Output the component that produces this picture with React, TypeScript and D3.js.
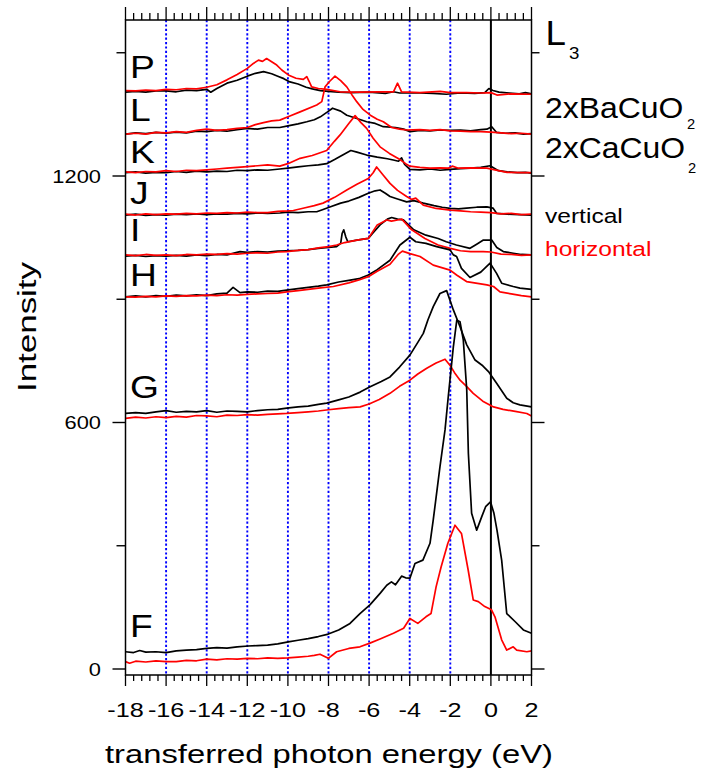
import React, { useEffect, useRef } from 'react';
import * as d3 from 'd3';

type Pt = [number, number];

// spectra: [transferred energy (eV), intensity incl. vertical offset]
const pBlack: Pt[] = [[-18,1404],[-17.5,1406],[-17,1404],[-16.5,1407],[-16,1407],[-15.5,1405],[-15,1409],[-14.5,1408],[-14,1411],[-13.8,1404],[-13.5,1413],[-13,1426],[-12.5,1433],[-12,1443],[-11.6,1450],[-11.2,1454],[-10.8,1449],[-10.5,1443],[-10.2,1437],[-9.9,1429],[-9.5,1424],[-9.1,1416],[-8.8,1412],[-8.4,1408],[-8,1406],[-7.5,1404],[-6.9,1403],[-6,1404],[-5.2,1401],[-4.8,1405],[-4.5,1402],[-3.5,1402],[-2.85,1401],[-2.2,1399],[-1.5,1402],[-0.8,1401],[-0.3,1403],[-0.1,1413],[0.1,1408],[0.4,1404],[0.9,1402],[1.4,1400],[1.7,1403],[2,1400]];
const pRed: Pt[] = [[-18,1408],[-17.5,1407],[-17,1409],[-16.5,1408],[-16,1411],[-15.5,1410],[-15,1413],[-14.5,1412],[-14,1416],[-13.5,1422],[-13,1434],[-12.5,1447],[-12,1462],[-11.7,1474],[-11.45,1482],[-11.25,1479],[-11.05,1486],[-10.8,1478],[-10.55,1470],[-10.3,1458],[-9.98,1446],[-9.6,1438],[-9.24,1435],[-9.07,1442],[-8.95,1430],[-8.83,1417],[-8.5,1413],[-8.09,1411],[-7.43,1405],[-6.5,1404],[-5.5,1405],[-4.8,1405],[-4.6,1426],[-4.4,1405],[-3.5,1403],[-2.5,1406],[-2,1403],[-1.2,1403],[-0.5,1402],[0,1403],[0.3,1397],[1,1400],[2,1399]];
const lBlack: Pt[] = [[-18,1302],[-17.5,1305],[-17,1303],[-16.5,1306],[-16,1304],[-15.5,1307],[-15,1305],[-14.5,1309],[-14,1308],[-13.5,1311],[-13,1309],[-12.5,1313],[-12,1316],[-11.5,1314],[-11,1318],[-10.4,1318],[-10,1322],[-9.5,1327],[-9.07,1332],[-8.7,1337],[-8.4,1344],[-8.05,1356],[-7.8,1365],[-7.4,1358],[-7.1,1348],[-6.6,1340],[-6.12,1332],[-5.7,1328],[-5.3,1320],[-4.7,1318],[-4.3,1314],[-3.98,1308],[-3.5,1311],[-3,1310],[-2.5,1312],[-2.01,1311],[-1.5,1312],[-1,1310],[-0.5,1313],[-0.2,1314],[0.04,1320],[0.28,1306],[0.7,1304],[1.2,1305],[1.6,1302],[2,1303]];
const lRed: Pt[] = [[-18,1302],[-17.5,1304],[-17,1302],[-16.5,1306],[-16,1305],[-15.5,1308],[-15,1306],[-14.5,1311],[-14,1314],[-13.5,1311],[-13,1313],[-12.5,1316],[-12,1318],[-11.6,1325],[-11.2,1330],[-10.8,1334],[-10.4,1336],[-9.9,1346],[-9.4,1356],[-8.58,1373],[-8.33,1381],[-8.17,1417],[-7.95,1430],[-7.68,1443],[-7.4,1432],[-7.1,1417],[-6.85,1398],[-6.61,1381],[-6.3,1362],[-5.94,1348],[-5.6,1338],[-5.3,1332],[-4.89,1318],[-4.5,1314],[-4.15,1312],[-3.5,1313],[-3,1311],[-2.5,1313],[-2,1310],[-1.5,1309],[-1,1308],[-0.5,1308],[0,1307],[0.5,1305],[1,1303],[1.5,1304],[2,1302]];
const kBlack: Pt[] = [[-18,1208],[-17.5,1210],[-17,1207],[-16.5,1209],[-16,1208],[-15.5,1211],[-15,1209],[-14.5,1212],[-14,1210],[-13.5,1212],[-13,1211],[-12.5,1214],[-12,1213],[-11.5,1215],[-11,1214],[-10.4,1217],[-10,1219],[-9.5,1222],[-9,1225],[-8.5,1227],[-8.09,1230],[-7.7,1240],[-7.3,1251],[-6.9,1262],[-6.6,1258],[-6.12,1251],[-5.6,1246],[-5.1,1242],[-4.81,1239],[-4.55,1236],[-4.4,1244],[-4.25,1228],[-3.99,1216],[-3.5,1215],[-3,1217],[-2.5,1214],[-2,1216],[-1.5,1218],[-1,1219],[-0.5,1221],[-0.04,1225],[0.37,1213],[0.8,1210],[1.3,1208],[1.7,1209],[2,1207]];
const kRed: Pt[] = [[-18,1210],[-17.5,1208],[-17,1211],[-16.5,1210],[-16,1213],[-15.5,1211],[-15,1214],[-14.5,1213],[-14,1215],[-13.5,1217],[-13,1219],[-12.5,1221],[-12,1223],[-11.5,1225],[-11,1227],[-10.4,1224],[-10,1230],[-9.4,1243],[-8.8,1250],[-8.09,1262],[-7.7,1285],[-7.43,1300],[-7,1328],[-6.69,1347],[-6.4,1330],[-6.12,1316],[-5.8,1292],[-5.46,1271],[-5,1255],[-4.48,1240],[-4.2,1230],[-3.99,1224],[-3.5,1221],[-3,1219],[-2.5,1220],[-2.1,1219],[-1.9,1224],[-1.6,1219],[-1,1220],[-0.2,1219],[0.2,1215],[0.8,1209],[1.5,1208],[2,1208]];
const jBlack: Pt[] = [[-18,1105],[-17.5,1107],[-17,1104],[-16.5,1106],[-16,1105],[-15.5,1107],[-15,1106],[-14.5,1108],[-14,1106],[-13.5,1108],[-13,1107],[-12.5,1109],[-12,1108],[-11.5,1110],[-11,1109],[-10.4,1110],[-10,1112],[-9.5,1111],[-9,1113],[-8.58,1113],[-8.3,1118],[-7.9,1125],[-7.4,1134],[-7,1139],[-6.5,1148],[-6.04,1158],[-5.7,1164],[-5.46,1166],[-5.2,1158],[-4.97,1150],[-4.6,1144],[-4.15,1137],[-3.8,1140],[-3.33,1134],[-2.8,1128],[-2.4,1124],[-2,1121],[-1.6,1120],[-1.2,1122],[-0.7,1124],[-0.2,1125],[0.1,1122],[0.29,1109],[0.8,1107],[1.4,1106],[2,1105]];
const jRed: Pt[] = [[-18,1107],[-17.5,1105],[-17,1108],[-16.5,1106],[-16,1108],[-15.5,1107],[-15,1109],[-14.5,1108],[-14,1110],[-13.5,1109],[-13,1111],[-12.5,1110],[-12,1112],[-11.5,1111],[-11,1111],[-10.5,1114],[-10,1115],[-9.73,1116],[-9.2,1122],[-8.7,1128],[-8.27,1134],[-7.7,1148],[-7.1,1166],[-6.6,1180],[-6.04,1194],[-5.8,1208],[-5.63,1222],[-5.3,1202],[-4.97,1182],[-4.6,1165],[-4.15,1150],[-3.9,1143],[-3.7,1146],[-3.33,1129],[-2.7,1121],[-2,1117],[-1.5,1115],[-1,1113],[-0.5,1112],[0,1111],[0.5,1108],[1,1109],[1.5,1106],[2,1107]];
const iBlack: Pt[] = [[-18,1005],[-17.5,1007],[-17,1004],[-16.5,1006],[-16,1005],[-15.5,1007],[-15,1005],[-14.5,1008],[-14,1006],[-13.5,1009],[-13,1008],[-12.36,1016],[-12,1014],[-11.5,1016],[-11,1015],[-10.5,1017],[-10.06,1018],[-9.5,1019],[-9,1021],[-8.5,1024],[-8,1026],[-7.6,1028],[-7.4,1036],[-7.33,1060],[-7.25,1069],[-7.15,1052],[-7.05,1040],[-6.6,1044],[-6.04,1048],[-5.8,1062],[-5.46,1081],[-5.1,1095],[-4.89,1099],[-4.6,1095],[-4.31,1093],[-3.8,1069],[-3.2,1056],[-2.6,1048],[-2.2,1040],[-1.7,1032],[-1.03,1024],[-0.7,1034],[-0.37,1044],[0.04,1044],[0.29,1026],[0.61,1016],[1.1,1012],[1.5,1009],[2,1008]];
const iRed: Pt[] = [[-18,1008],[-17.5,1006],[-17,1009],[-16.5,1007],[-16,1008],[-15.5,1006],[-15,1009],[-14.5,1008],[-14,1010],[-13.5,1009],[-13,1011],[-12.5,1010],[-12,1012],[-11.5,1013],[-11,1012],[-10.5,1015],[-10.06,1016],[-9.5,1019],[-9,1021],[-8.5,1025],[-8,1028],[-7.6,1032],[-7.2,1038],[-6.6,1044],[-6.04,1048],[-5.6,1081],[-5.13,1093],[-4.9,1090],[-4.6,1093],[-4.39,1095],[-3.9,1069],[-3.25,1048],[-2.6,1032],[-2,1024],[-1.5,1018],[-1,1016],[-0.38,1016],[0,1015],[0.5,1010],[1,1009],[1.5,1007],[2,1008]];
const hBlack: Pt[] = [[-18,906],[-17.5,908],[-17,906],[-16.5,909],[-16,907],[-15.5,910],[-15,908],[-14.5,911],[-14,909],[-13.5,913],[-13,915],[-12.7,929],[-12.36,916],[-12,918],[-11.5,917],[-11,920],[-10.5,919],[-10.06,922],[-9.5,926],[-9,929],[-8.5,932],[-8.09,935],[-7.5,942],[-7,946],[-6.5,950],[-6.04,959],[-5.6,972],[-4.97,995],[-4.48,1032],[-3.99,1051],[-3.7,1040],[-3.2,1036],[-2.67,1028],[-2.01,1020],[-1.85,1008],[-1.69,1004],[-1.45,975],[-1.03,953],[-0.5,966],[-0.04,988],[0.28,963],[0.53,939],[1.1,931],[1.43,927],[2,924]];
const hRed: Pt[] = [[-18,906],[-17.5,905],[-17,907],[-16.5,906],[-16,908],[-15.5,907],[-15,909],[-14.5,908],[-14,910],[-13.5,909],[-13,911],[-12.5,910],[-12,912],[-11.5,913],[-11,914],[-10.5,915],[-10.06,918],[-9.5,921],[-9,924],[-8.5,927],[-7.76,931],[-7,940],[-6.5,947],[-6.04,955],[-5.6,968],[-4.97,985],[-4.55,1010],[-4.36,1017],[-3.99,1011],[-3.49,1004],[-2.84,983],[-2.01,971],[-1.69,959],[-1.2,943],[-0.2,935],[0.13,931],[0.45,918],[1,913],[1.5,909],[2,906]];
const gBlack: Pt[] = [[-18,622],[-17.5,624],[-17,622],[-16.5,626],[-16,629],[-15.5,625],[-15,627],[-14.5,626],[-14,629],[-13.5,625],[-13,628],[-12.5,627],[-12,626],[-11.5,629],[-11,631],[-10.5,632],[-10.06,635],[-9.5,638],[-9,640],[-8.5,644],[-8.09,647],[-7.5,655],[-7,662],[-6.44,674],[-5.95,687],[-5.4,700],[-4.97,711],[-4.5,735],[-3.99,764],[-3.6,795],[-3.33,817],[-3.1,850],[-2.84,882],[-2.51,914],[-2.18,921],[-1.85,874],[-1.52,833],[-1.19,789],[-0.78,752],[-0.4,738],[-0.12,724],[0.29,695],[0.78,659],[1.1,648],[1.43,643],[2,638]];
const gRed: Pt[] = [[-18,610],[-17.5,613],[-17,611],[-16.5,614],[-16,612],[-15.5,615],[-15,613],[-14.5,617],[-14,616],[-13.5,614],[-13,618],[-12.5,617],[-12,619],[-11.5,618],[-11,620],[-10.5,621],[-10.06,622],[-9.5,624],[-9,626],[-8.5,628],[-8,631],[-7.5,634],[-7,636],[-6.44,638],[-6,645],[-5.5,656],[-4.97,671],[-4.5,688],[-3.99,703],[-3.6,718],[-3.16,732],[-2.7,745],[-2.26,754],[-2.0,738],[-1.8,722],[-1.52,703],[-1.2,688],[-0.87,671],[-0.4,652],[0.13,638],[0.6,632],[1.2,627],[1.77,622],[2,616]];
const fBlack: Pt[] = [[-18,42],[-17.6,40],[-17.3,45],[-17,41],[-16.5,42],[-16,40],[-15.5,44],[-15,46],[-14.5,47],[-14,50],[-13.5,52],[-13,51],[-12.5,54],[-11.95,56],[-11.5,57],[-11,58],[-10.5,61],[-9.98,66],[-9.5,70],[-9,74],[-8.5,79],[-8.01,85],[-7.5,95],[-6.94,111],[-6.45,135],[-5.96,156],[-5.46,184],[-5.13,204],[-4.9,212],[-4.7,205],[-4.4,226],[-4.2,222],[-3.99,221],[-3.74,257],[-3.35,265],[-3.0,306],[-2.84,363],[-2.51,492],[-2.26,582],[-2.1,663],[-1.85,784],[-1.68,849],[-1.52,845],[-1.36,801],[-1.19,679],[-1.11,525],[-0.95,379],[-0.7,338],[-0.45,371],[-0.26,395],[-0.02,407],[0.15,379],[0.3,338],[0.53,265],[0.78,135],[1.2,115],[1.6,95],[2,87]];
const fRed: Pt[] = [[-18,18],[-17.8,14],[-17.5,19],[-17,17],[-16.5,20],[-16,18],[-15.5,18],[-15,21],[-14.5,20],[-14,24],[-13.5,22],[-13,25],[-12.5,24],[-12,26],[-11.5,25],[-11,27],[-10.5,26],[-10,27],[-9.5,29],[-9,31],[-8.7,33],[-8.42,36],[-8.01,26],[-7.6,42],[-7,50],[-6.45,54],[-5.96,63],[-5.46,73],[-4.8,87],[-4.3,99],[-3.99,123],[-3.6,111],[-3.2,127],[-2.95,135],[-2.7,200],[-2.45,249],[-2.12,306],[-1.77,350],[-1.45,330],[-1.12,241],[-0.87,168],[-0.62,164],[-0.3,152],[0.03,144],[0.2,127],[0.53,71],[0.78,46],[1.1,54],[1.27,46],[1.77,42],[2,44]];

const blackSeries = [pBlack, lBlack, kBlack, jBlack, iBlack, hBlack, gBlack, fBlack];
const redSeries = [pRed, lRed, kRed, jRed, iRed, hRed, gRed, fRed];

// letter labels with the intensity they sit on
const letters = ['P', 'L', 'K', 'J', 'I', 'H', 'G', 'F'];
const letterBase = [1426, 1322, 1220, 1120, 1030, 920, 647, 66];

const xTicks = [-18, -16, -14, -12, -10, -8, -6, -4, -2, 0, 2];
const guideLines = [-16, -14, -12, -10, -8, -6, -4, -2];
const yMajor = [0, 600, 1200];
const yMinor = [300, 900, 1500];

const W = 710;
const H = 774;
const FONT = '"Liberation Sans", Arial, Helvetica, sans-serif';

const App = () => {
  const ref = useRef<SVGSVGElement | null>(null);

  useEffect(() => {
    const svg = d3.select(ref.current);
    svg.selectAll('*').remove();

    const left = 125.5, right = 531.5, top = 20, bottom = 675;
    const x = d3.scaleLinear().domain([-18, 2]).range([left, right]);
    const y = d3.scaleLinear().domain([0, 1200]).range([669, 176]);

    // stretched text helper (reference glyphs are wider than Arial)
    const label = (t: string, tx: number, ty: number, size: number, sx: number, anchor = 'start', color = '#000') =>
      svg.append('text')
        .attr('transform', `translate(${tx},${ty}) scale(${sx},1)`)
        .attr('text-anchor', anchor)
        .style('font-family', FONT)
        .style('font-size', `${size}px`)
        .style('fill', color)
        .text(t);

    // blue guides
    svg.append('g').selectAll('line').data(guideLines).enter().append('line')
      .attr('x1', (d) => x(d)).attr('x2', (d) => x(d))
      .attr('y1', top).attr('y2', bottom)
      .attr('stroke', '#0000ff').attr('stroke-width', 1.9)
      .attr('stroke-dasharray', '2.2,2.2');

    // zero line
    svg.append('line')
      .attr('x1', x(0)).attr('x2', x(0)).attr('y1', top).attr('y2', bottom)
      .attr('stroke', '#000').attr('stroke-width', 2);

    const line = d3.line<Pt>().x((d) => x(d[0])).y((d) => y(d[1]));

    blackSeries.forEach((s, i) => {
      svg.append('path').datum(s).attr('d', line).attr('fill', 'none')
        .attr('stroke', '#000').attr('stroke-width', 1.7).attr('stroke-linejoin', 'round');
      svg.append('path').datum(redSeries[i]).attr('d', line).attr('fill', 'none')
        .attr('stroke', '#ff0000').attr('stroke-width', 1.7).attr('stroke-linejoin', 'round');
    });

    // frame
    svg.append('rect')
      .attr('x', left).attr('y', top).attr('width', right - left).attr('height', bottom - top)
      .attr('fill', 'none').attr('stroke', '#000').attr('stroke-width', 1.5);

    // x ticks top and bottom
    const minorX = d3.range(-18, 2.001, 0.4);
    minorX.forEach((v) => {
      const isMajor = Math.abs(v / 2 - Math.round(v / 2)) < 1e-6;
      svg.append('line').attr('x1', x(v)).attr('x2', x(v))
        .attr('y1', bottom).attr('y2', bottom + (isMajor ? 11 : 6))
        .attr('stroke', '#000').attr('stroke-width', 1.3);
      svg.append('line').attr('x1', x(v)).attr('x2', x(v))
        .attr('y1', top).attr('y2', top - (isMajor ? 13 : 7))
        .attr('stroke', '#000').attr('stroke-width', 1.3);
    });

    // y ticks left and right
    yMajor.forEach((v) => {
      svg.append('line').attr('x1', left - 13).attr('x2', left).attr('y1', y(v)).attr('y2', y(v))
        .attr('stroke', '#000').attr('stroke-width', 1.4);
      svg.append('line').attr('x1', right).attr('x2', right + 13).attr('y1', y(v)).attr('y2', y(v))
        .attr('stroke', '#000').attr('stroke-width', 1.4);
      label(String(v), 101, y(v) + 6.5, 17.5, 1.25, 'end');
    });
    yMinor.forEach((v) => {
      svg.append('line').attr('x1', left - 9).attr('x2', left).attr('y1', y(v)).attr('y2', y(v))
        .attr('stroke', '#000').attr('stroke-width', 1.4);
      svg.append('line').attr('x1', right).attr('x2', right + 8).attr('y1', y(v)).attr('y2', y(v))
        .attr('stroke', '#000').attr('stroke-width', 1.4);
    });

    xTicks.forEach((v) => label(String(v), x(v), 717, 21, 1.2, 'middle'));

    // axis titles
    svg.append('text')
      .attr('x', 105).attr('y', 763)
      .attr('textLength', 448).attr('lengthAdjust', 'spacingAndGlyphs')
      .style('font-family', FONT).style('font-size', '26px')
      .text('transferred photon energy (eV)');
    svg.append('text')
      .attr('transform', 'translate(36,327) rotate(-90)')
      .attr('x', -65).attr('textLength', 130).attr('lengthAdjust', 'spacingAndGlyphs')
      .style('font-family', FONT).style('font-size', '26px')
      .text('Intensity');

    // spectrum letters
    letters.forEach((t, i) => label(t, 130, y(letterBase[i]) - 5, 31, 1.2));

    // right side labels
    label('L', 545.5, 45, 35, 1.05);
    label('3', 569, 59, 17, 1.1);
    label('2xBaCuO', 545, 118, 29, 1.1);
    label('2', 687, 129, 14, 1.05);
    label('2xCaCuO', 545, 158, 29, 1.1);
    label('2', 688, 173, 14, 1.05);
    label('vertical', 545, 223, 21, 1.17);
    label('horizontal', 545, 256, 21, 1.17, 'start', '#ff0000');
  }, []);

  return (
    <svg ref={ref} width={W} height={H}
      style={{ position: 'absolute', left: 0, top: 0, background: '#fff' }} />
  );
};

export default App;
